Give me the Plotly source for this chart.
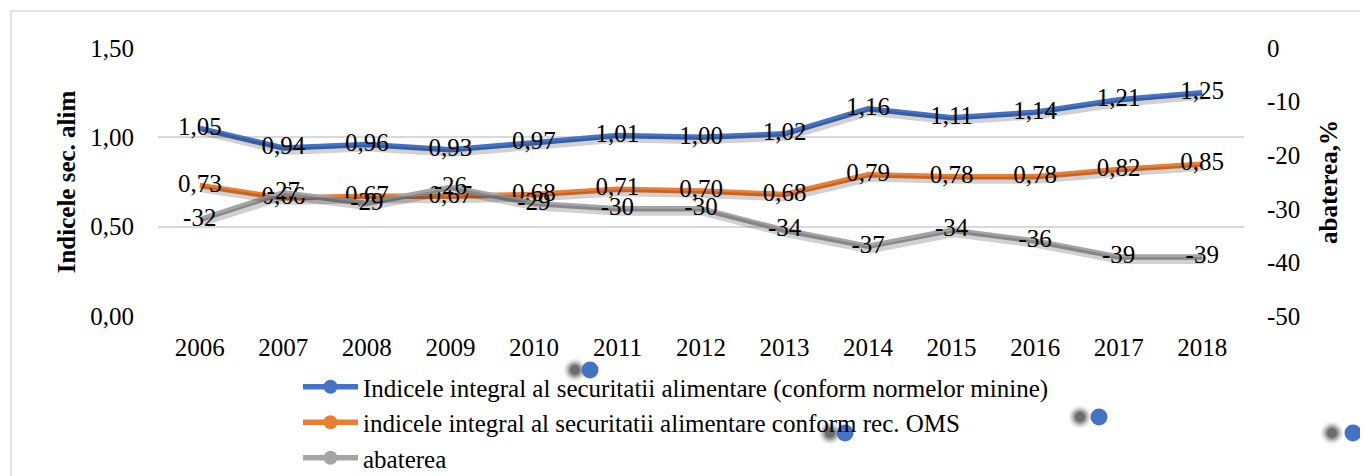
import plotly.graph_objects as go

# ---------------- data ----------------
years = ["2006", "2007", "2008", "2009", "2010", "2011", "2012",
         "2013", "2014", "2015", "2016", "2017", "2018"]
indice_minime = [1.05, 0.94, 0.96, 0.93, 0.97, 1.01, 1.00, 1.02, 1.16, 1.11, 1.14, 1.21, 1.25]
indice_oms = [0.73, 0.66, 0.67, 0.67, 0.68, 0.71, 0.70, 0.68, 0.79, 0.78, 0.78, 0.82, 0.85]
abaterea = [-32, -27, -29, -26, -29, -30, -30, -34, -37, -34, -36, -39, -39]

name_min = "Indicele integral al securitatii alimentare (conform normelor minine)"
name_oms = "indicele integral al securitatii alimentare conform rec. OMS"
name_ab = "abaterea"

left_ticks = [0, 0.5, 1.0, 1.5]
right_ticks = [0, -10, -20, -30, -40, -50]

# ---------------- style ----------------
BLUE, ORANGE, GRAY = "#4472C4", "#ED7D31", "#A5A5A5"
FONT = "Liberation Serif"
FS = 25
OFF = 8                      # page body margin of the browser
W, H = 1368 - OFF, 476 - OFF
PX0, PX1, PY0, PY1 = 158, 1244, 48, 316   # plot area in page pixels
L, T = PX0 - OFF, PY0 - OFF
PW, PH = PX1 - PX0, PY1 - PY0
R, B = W - L - PW, H - T - PH

def px2x(px):
    return (px - PX0) / PW

def px2y(py):
    return (PY1 - py) / PH

def fmt2(v):
    return f"{v:.2f}".replace(".", ",")

LRANGE = [0, 1.5]
RRANGE = [-50, 0]
n = len(years)
dx = 2.0 / (PW / n)          # shadow shift right (px -> category units)
dyl = 3.5 / PH * (LRANGE[1] - LRANGE[0])
dyr = 3.5 / PH * (RRANGE[1] - RRANGE[0])
SH = "rgba(0,0,0,0.18)"

fig = go.Figure()

# shadows
fig.add_trace(go.Scatter(x=years, y=indice_minime, mode="lines", xaxis="x2", yaxis="y3",
                         line=dict(color=SH, width=7), showlegend=False, hoverinfo="skip"))
fig.add_trace(go.Scatter(x=years, y=indice_oms, mode="lines", xaxis="x2", yaxis="y3",
                         line=dict(color=SH, width=7), showlegend=False, hoverinfo="skip"))
fig.add_trace(go.Scatter(x=years, y=abaterea, mode="lines", xaxis="x2", yaxis="y4",
                         line=dict(color=SH, width=7), showlegend=False, hoverinfo="skip"))

# lines
fig.add_trace(go.Scatter(x=years, y=indice_minime, mode="lines", name=name_min,
                         line=dict(color=BLUE, width=5.5), showlegend=False))
fig.add_trace(go.Scatter(x=years, y=indice_oms, mode="lines", name=name_oms,
                         line=dict(color=ORANGE, width=5.5), showlegend=False))
fig.add_trace(go.Scatter(x=years, y=abaterea, mode="lines", name=name_ab, yaxis="y2",
                         line=dict(color=GRAY, width=5.5), showlegend=False))

# data labels
tf = dict(family=FONT, size=FS, color="black")
fig.add_trace(go.Scatter(x=years, y=indice_minime, mode="text", text=[fmt2(v) for v in indice_minime],
                         textposition="middle center", textfont=tf, showlegend=False, hoverinfo="skip"))
fig.add_trace(go.Scatter(x=years, y=indice_oms, mode="text", text=[fmt2(v) for v in indice_oms],
                         textposition="middle center", textfont=tf, showlegend=False, hoverinfo="skip"))
fig.add_trace(go.Scatter(x=years, y=abaterea, mode="text", yaxis="y2", text=[str(v) for v in abaterea],
                         textposition="middle center", textfont=tf, showlegend=False, hoverinfo="skip"))

# legend entries
for nm, col, g in [(name_min, BLUE, "a"), (name_oms, ORANGE, "b"), (name_ab, GRAY, "c")]:
    fig.add_trace(go.Scatter(x=[None], y=[None], mode="lines+markers", name=nm, legendgroup=g,
                             line=dict(color=col, width=5.5), marker=dict(color=col, size=14)))

shapes = [dict(type="rect", xref="paper", yref="paper",
               x0=px2x(11), x1=px2x(1400), y0=px2y(520), y1=px2y(11),
               line=dict(color="#D9D9D9", width=1.5), fillcolor="rgba(0,0,0,0)", layer="below")]

# stray marker artifacts (blue dot with blurred shadow)
for (cx, cy, sx) in [(590, 370, 15), (845, 433, 15), (1099, 417, 19), (1353, 433, 21)]:
    for r, a in [(11, 0.10), (9, 0.18), (7, 0.28), (5, 0.40)]:
        shapes.append(dict(type="circle", xref="paper", yref="paper",
                           xsizemode="pixel", ysizemode="pixel",
                           xanchor=px2x(cx - sx), yanchor=px2y(cy),
                           x0=-r, x1=r, y0=-r, y1=r,
                           line=dict(width=0), fillcolor=f"rgba(40,40,40,{a})"))
    shapes.append(dict(type="circle", xref="paper", yref="paper",
                       xsizemode="pixel", ysizemode="pixel",
                       xanchor=px2x(cx), yanchor=px2y(cy),
                       x0=-8.5, x1=8.5, y0=-8.5, y1=8.5,
                       line=dict(width=0), fillcolor=BLUE))

fig.update_layout(
    width=W, height=H,
    margin=dict(l=L, r=R, t=T, b=B, autoexpand=False),
    paper_bgcolor="white", plot_bgcolor="white",
    font=dict(family=FONT, size=FS, color="black"),
    showlegend=True,
    legend=dict(x=px2x(298), y=px2y(364), xanchor="left", yanchor="top",
                orientation="v", font=dict(family=FONT, size=FS, color="black"),
                tracegroupgap=0, bgcolor="rgba(0,0,0,0)", itemwidth=55),
    xaxis=dict(type="category", range=[-0.5, n - 0.5], showgrid=False, zeroline=False,
               showline=False, ticks="", ticklabelstandoff=14,
               tickfont=dict(family=FONT, size=FS, color="black")),
    xaxis2=dict(type="category", overlaying="x", range=[-0.5 - dx, n - 0.5 - dx], visible=False),
    yaxis=dict(range=LRANGE, tickvals=left_ticks, ticktext=[fmt2(v) for v in left_ticks],
               showgrid=True, gridcolor="#D9D9D9", gridwidth=1.5, zeroline=False,
               showline=False, ticks="", ticklabelstandoff=23,
               tickfont=dict(family=FONT, size=FS, color="black"),
               title=dict(text="<b>Indicele sec. alim</b>", standoff=7,
                          font=dict(family=FONT, size=FS, color="black"))),
    yaxis2=dict(range=RRANGE, overlaying="y", side="right", tickvals=right_ticks,
                ticktext=[str(v) for v in right_ticks], showgrid=False, zeroline=False,
                showline=False, ticks="", ticklabelstandoff=22,
                tickfont=dict(family=FONT, size=FS, color="black"),
                title=dict(text="<b>abaterea,%</b>", standoff=20,
                           font=dict(family=FONT, size=FS, color="black"))),
    yaxis3=dict(range=[LRANGE[0] + dyl, LRANGE[1] + dyl], overlaying="y", visible=False),
    yaxis4=dict(range=[RRANGE[0] + dyr, RRANGE[1] + dyr], overlaying="y", visible=False),
    shapes=shapes,
)

fig.write_html("out.html")
